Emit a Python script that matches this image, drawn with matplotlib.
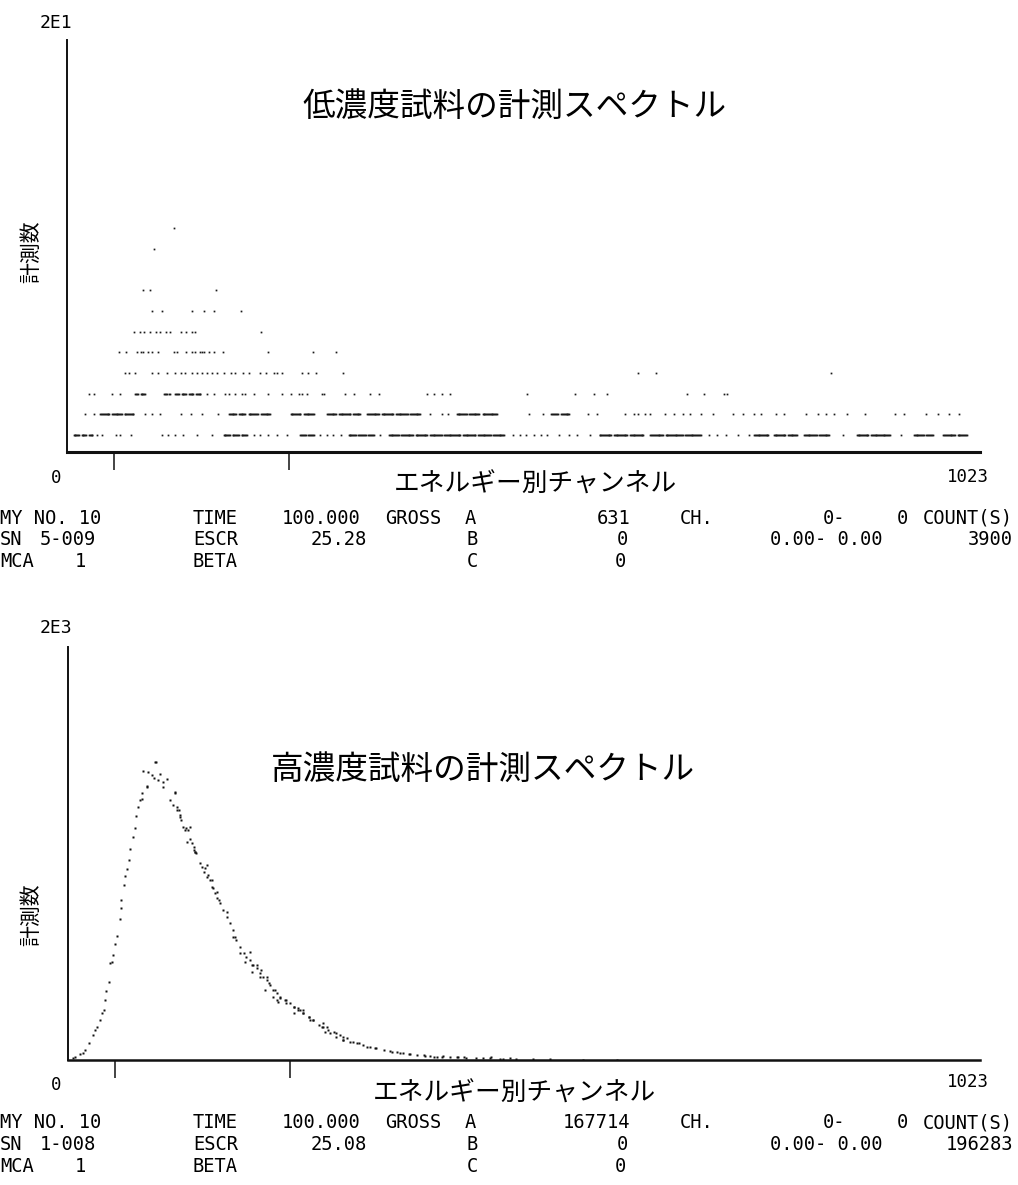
import numpy as np
import matplotlib
matplotlib.use('Agg')
import matplotlib.pyplot as plt

W, H = 1018, 1185

# ---------------- data: low-concentration spectrum (count level -> channel runs)
low_level_1 = [(8, 14), (17, 22), (25, 29), (34, 34), (40, 40), (55, 55), (60, 60), (72, 72),
               (107, 107), (114, 114), (122, 122), (131, 131), (146, 146), (163, 163),
               (176, 183), (186, 193), (196, 202), (210, 210), (217, 217), (226, 226),
               (236, 236), (247, 247), (262, 268), (271, 277), (284, 284), (292, 292),
               (299, 299), (307, 307), (316, 324), (327, 335), (338, 344), (351, 351),
               (361, 372), (375, 388), (391, 404), (407, 420), (423, 441), (444, 458),
               (461, 475), (478, 490), (500, 500), (508, 508), (515, 515), (523, 523),
               (531, 531), (538, 538), (551, 551), (563, 563), (572, 572), (586, 586),
               (597, 610), (613, 628), (631, 646), (654, 668), (671, 690), (693, 710),
               (719, 719), (729, 729), (739, 739), (752, 752), (764, 764), (770, 786),
               (792, 805), (808, 818), (826, 840), (843, 854), (870, 870), (885, 898),
               (901, 922), (934, 934), (949, 960), (963, 970), (982, 995), (998, 1008)]
low_level_2 = [(21, 21), (31, 31), (38, 48), (51, 62), (65, 75), (88, 88), (96, 96), (105, 105),
               (128, 128), (139, 139), (152, 152), (170, 170), (182, 190), (193, 200),
               (204, 214), (218, 228), (251, 262), (266, 277), (292, 302), (305, 318),
               (321, 329), (337, 350), (353, 366), (369, 382), (385, 396), (407, 407),
               (421, 421), (427, 427), (437, 448), (451, 462), (466, 482), (518, 518),
               (534, 534), (543, 550), (554, 563), (584, 584), (594, 594), (626, 626),
               (635, 635), (640, 640), (648, 648), (654, 654), (670, 670), (680, 680),
               (690, 690), (698, 698), (710, 710), (724, 724), (746, 746), (758, 758),
               (770, 770), (778, 778), (794, 794), (804, 804), (828, 828), (842, 842),
               (851, 851), (859, 859), (874, 874), (894, 894), (928, 928), (938, 938),
               (962, 962), (976, 976), (988, 988), (1000, 1000)]
low_level_3 = [(25, 25), (31, 31), (51, 51), (60, 60), (77, 80), (83, 88), (109, 112), (115, 116),
               (122, 126), (129, 134), (137, 142), (145, 150), (157, 157), (165, 165),
               (178, 178), (182, 182), (189, 189), (196, 196), (200, 200), (210, 210),
               (226, 226), (241, 241), (251, 251), (260, 260), (264, 264), (269, 269),
               (286, 286), (288, 288), (312, 312), (322, 322), (340, 340), (350, 350),
               (404, 404), (411, 411), (420, 420), (430, 430), (516, 516), (570, 570),
               (591, 591), (605, 605), (695, 695), (714, 714), (736, 736), (740, 740)]
low_level_4 = [66, 70, 77, 96, 102, 113, 122, 128, 133, 141, 146, 152, 157, 163, 168, 176,
               184, 189, 198, 204, 217, 223, 232, 236, 241, 264, 271, 279, 310, 640, 660, 856]
low_level_5 = [59, 67, 79, 83, 86, 91, 96, 102, 120, 124, 134, 140, 144, 149, 152, 154, 160,
               165, 175, 226, 276, 302]
low_level_6 = [76, 82, 87, 93, 100, 105, 111, 116, 128, 134, 140, 144, 218]
low_level_7 = [96, 107, 140, 154, 165, 195]
low_level_8 = [86, 94, 167]
low_level_10 = [98]
low_level_11 = [120]

# ---------------- data: high-concentration spectrum (channel, count)
high_channel = [6, 8, 13, 17, 19, 23, 28, 30, 32, 36, 38, 40, 41, 43, 46, 47, 49, 51, 53, 55,
                58, 59, 60, 63, 64, 66, 68, 70, 73, 75, 76, 79, 81, 83, 83, 84, 89, 89, 90, 94,
                96, 98, 99, 101, 103, 107, 107, 111, 114, 118, 120, 120, 122, 122, 124, 126,
                126, 127, 129, 131, 132, 133, 137, 139, 141, 142, 142, 144, 148, 150, 152, 154,
                156, 156, 157, 159, 161, 163, 165, 167, 169, 170, 174, 178, 182, 185, 187, 189,
                193, 197, 200, 204, 206, 208, 212, 215, 219, 223, 225, 227, 232, 234, 238, 243,
                245, 249, 253, 258, 260, 264, 270, 275, 281, 286, 290, 292, 298, 305, 309, 313,
                320, 326, 335, 344, 354, 363, 372, 382, 391, 400, 410, 419, 429, 438, 447, 466,
                475, 485, 496, 503, 522, 541, 578, 616]
high_count = [8, 16, 29, 32, 48, 81, 121, 145, 161, 194, 226, 242, 291, 336, 379, 468, 476, 508,
              562, 601, 681, 735, 775, 848, 891, 923, 969, 1020, 1082, 1122, 1182, 1227, 1259,
              1295, 1262, 1401, 1324, 1327, 1396, 1380, 1364, 1445, 1441, 1356, 1385, 1348, 1324,
              1359, 1259, 1235, 1299, 1295, 1210, 1227, 1211, 1178, 1186, 1162, 1130, 1114, 1122,
              1057, 1068, 1049, 1017, 1009, 1009, 1001, 952, 936, 912, 928, 944, 888, 896, 872,
              839, 831, 807, 783, 775, 759, 726, 694, 662, 630, 597, 581, 549, 517, 500, 484,
              460, 460, 444, 420, 404, 387, 371, 363, 339, 323, 307, 291, 291, 274, 258, 242,
              242, 226, 210, 194, 170, 161, 161, 145, 137, 121, 113, 105, 89, 81, 65, 57, 49,
              40, 32, 29, 24, 20, 16, 16, 13, 16, 11, 8, 13, 7, 10, 5, 3, 3, 2, 1]
high_scatter_channel = [135, 137, 141, 161, 167, 178, 185, 193, 199, 204, 206, 212, 215, 217,
                        221, 223, 230, 230, 234, 236, 238, 245, 253, 253, 258, 264, 264, 270,
                        271, 275, 285, 286, 288, 294, 301, 301, 309, 309, 316, 324, 331, 339,
                        346, 361, 369, 376, 384, 399, 406, 414, 421, 436, 444, 458, 473, 488]
high_scatter_count = [1114, 1130, 1033, 872, 815, 718, 597, 517, 476, 525, 428, 460, 404, 436,
                      339, 404, 339, 307, 291, 283, 299, 275, 258, 226, 250, 226, 242, 210,
                      194, 194, 162, 178, 137, 129, 113, 129, 97, 97, 89, 81, 73, 65,
                      57, 45, 40, 36, 29, 24, 20, 16, 20, 16, 13, 10, 10, 7]

x_ticks = [53, 249]

# ---------------- info texts
top_info = [
    [("MY NO. 10", 0, 'left'), ("TIME", 193, 'left'), ("100.000", 282, 'left'),
     ("GROSS", 385, 'left'), ("A", 465, 'left'), ("631", 630, 'right'), ("CH.", 680, 'left'),
     ("0-", 845, 'right'), ("0", 908, 'right'), ("COUNT(S)", 1013, 'right')],
    [("SN", 0, 'left'), ("5-009", 40, 'left'), ("ESCR", 193, 'left'), ("25.28", 367, 'right'),
     ("B", 467, 'left'), ("0", 628, 'right'), ("0.00- 0.00", 770, 'left'), ("3900", 1013, 'right')],
    [("MCA", 0, 'left'), ("1", 75, 'left'), ("BETA", 193, 'left'), ("C", 467, 'left'),
     ("0", 626, 'right')],
]
bottom_info = [
    [("MY NO. 10", 0, 'left'), ("TIME", 193, 'left'), ("100.000", 282, 'left'),
     ("GROSS", 385, 'left'), ("A", 465, 'left'), ("167714", 630, 'right'), ("CH.", 680, 'left'),
     ("0-", 845, 'right'), ("0", 908, 'right'), ("COUNT(S)", 1013, 'right')],
    [("SN", 0, 'left'), ("1-008", 40, 'left'), ("ESCR", 193, 'left'), ("25.08", 367, 'right'),
     ("B", 467, 'left'), ("0", 628, 'right'), ("0.00- 0.00", 770, 'left'), ("196283", 1013, 'right')],
    [("MCA", 0, 'left'), ("1", 75, 'left'), ("BETA", 193, 'left'), ("C", 467, 'left'),
     ("0", 626, 'right')],
]

MONO = 'DejaVu Sans Mono'
CJK = ['Noto Sans CJK JP', 'DejaVu Sans']
INK = '#111111'

fig = plt.figure(figsize=(W / 100, H / 100), dpi=100)


def fx(x):
    return x / W


def fy(y):
    return 1 - y / H


def make_axes(left, right, top, bottom):
    ax = fig.add_axes([fx(left), fy(bottom), (right - left) / W, (bottom - top) / H])
    for s in ('top', 'right'):
        ax.spines[s].set_visible(False)
    for s in ('left', 'bottom'):
        ax.spines[s].set_linewidth(1.4)
        ax.spines[s].set_color(INK)
    ax.set_xlim(0, 1023)
    ax.set_xticks(x_ticks)
    ax.set_xticklabels([])
    ax.set_yticks([])
    ax.tick_params(axis='x', direction='out', length=13, width=1.1, color=INK)
    ax.patch.set_alpha(0)
    return ax


def expand(runs):
    out = []
    for r in runs:
        if isinstance(r, tuple):
            out.extend(range(r[0], r[1] + 1))
        else:
            out.append(r)
    return np.array(out)


# ---------------- top panel
ax1 = make_axes(66.5, 980, 40, 452)
ax1.set_ylim(0.18, 20.1)
ax1.spines['bottom'].set_linewidth(2.2)

levels = [(1, low_level_1), (2, low_level_2), (3, low_level_3), (4, low_level_4),
          (5, low_level_5), (6, low_level_6), (7, low_level_7), (8, low_level_8),
          (10, low_level_10), (11, low_level_11)]
for cnt, runs in levels:
    ch = expand(runs)
    ax1.plot(ch, np.full(len(ch), cnt), 's', ms=1.25, color='#1a1a1a', mec='none')

# ---------------- bottom panel
ax2 = make_axes(68, 980, 647, 1060)
ax2.set_ylim(0, 2000)
ax2.spines['bottom'].set_linewidth(1.8)
ax2.plot(high_channel, high_count, 's', ms=1.9, color=INK, mec='none')
ax2.plot(high_scatter_channel, high_scatter_count, 's', ms=1.6, color=INK, mec='none')

# ---------------- texts
for (lab, y) in (("2E1", 23), ("2E3", 628)):
    fig.text(fx(56), fy(y), lab, family=MONO, fontsize=13, ha='center', va='center')
for y in (478, 1085):
    fig.text(fx(56), fy(y), "0", family=MONO, fontsize=12.5, ha='center', va='center')
for y in (477, 1082):
    fig.text(fx(968), fy(y), "1023", family=MONO, fontsize=12.5, ha='center', va='center')

fig.text(fx(515), fy(107), "低濃度試料の計測スペクトル", family=CJK, fontsize=23.5,
         ha='center', va='center')
fig.text(fx(483), fy(770), "高濃度試料の計測スペクトル", family=CJK, fontsize=23.5,
         ha='center', va='center')
fig.text(fx(535), fy(485), "エネルギー別チャンネル", family=CJK, fontsize=18.5,
         ha='center', va='center')
fig.text(fx(514), fy(1094), "エネルギー別チャンネル", family=CJK, fontsize=18.5,
         ha='center', va='center')
for y in (252, 915):
    fig.text(fx(31), fy(y), "計測数", family=CJK, fontsize=15, rotation=90,
             ha='center', va='center')


def info_block(rows, y0):
    for i, row in enumerate(rows):
        y = y0 + i * 21.5
        for txt, x, ha in row:
            fig.text(fx(x), fy(y), txt, family=MONO, fontsize=13.5, ha=ha, va='center')


info_block(top_info, 518)
info_block(bottom_info, 1123)

fig.savefig('out.png', dpi=100)
